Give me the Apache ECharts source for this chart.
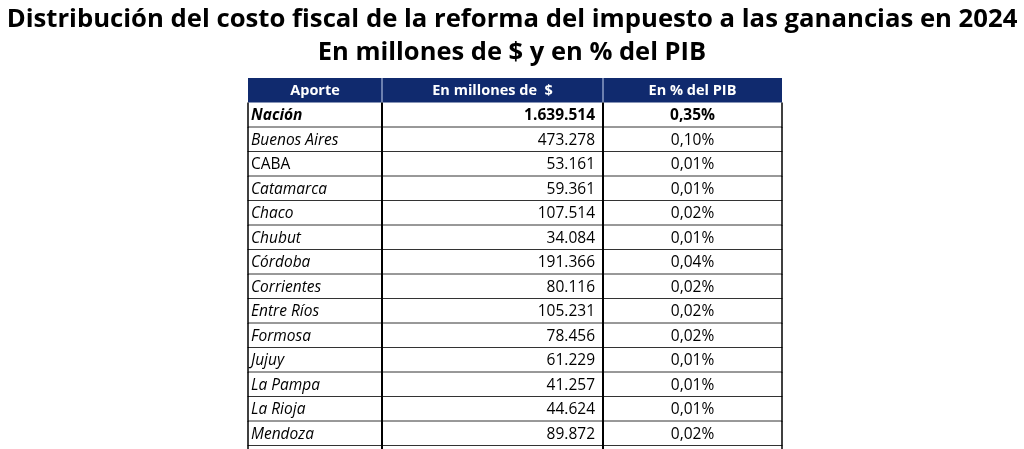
<!DOCTYPE html>
<html>
<head>
<meta charset="utf-8">
<script src="https://cdn.jsdelivr.net/npm/echarts@6/dist/echarts.min.js"></script>
<style>
  html, body { margin: 0; padding: 0; background: #fff; }
  #main { width: 1024px; height: 449px; }
</style>
</head>
<body>
<div id="main"></div>
<script>
// Datos de la tabla
var headers = ['Aporte', 'En millones de  $', 'En % del PIB'];
var aportes = ['Nación', 'Buenos Aires', 'CABA', 'Catamarca', 'Chaco', 'Chubut', 'Córdoba',
    'Corrientes', 'Entre Ríos', 'Formosa', 'Jujuy', 'La Pampa', 'La Rioja', 'Mendoza'];
var millones = [1639514, 473278, 53161, 59361, 107514, 34084, 191366,
    80116, 105231, 78456, 61229, 41257, 44624, 89872];
var pctPib = [0.35, 0.10, 0.01, 0.01, 0.02, 0.01, 0.04,
    0.02, 0.02, 0.02, 0.01, 0.01, 0.01, 0.02];
var filasTotal = ['Nación'];   // negrita
var filasRectas = ['CABA'];    // sin cursiva

var FONT = '"Open Sans", "Noto Sans", sans-serif';
var colWidths = [134, 221, 179];
var NAVY = '#102a6e';

function fmtMiles(v) {
    return String(v).replace(/\B(?=(\d{3})+(?!\d))/g, '.');
}
function fmtPct(v) {
    return v.toFixed(2).replace('.', ',') + '%';
}

// categorías: encabezado + filas + una fila cortada al pie
var categorias = ['__head'].concat(aportes).concat(['__next']);
var datos = categorias.map(function (c, i) { return [0, i]; });

function renderItem(params, api) {
    var idx = api.value(1);
    var cs = params.coordSys;
    var yc = api.coord([0, idx])[1];
    var h = api.size([0, 1])[1];
    var top = yc - h / 2, bottom = yc + h / 2;
    var total = colWidths[0] + colWidths[1] + colWidths[2];
    var xs = [cs.x];
    colWidths.forEach(function (w) { xs.push(xs[xs.length - 1] + w / total * cs.width); });
    var children = [];

    if (idx === 0) {
        children.push({ type: 'rect', shape: { x: xs[0], y: top, width: xs[3] - xs[0], height: h },
            style: { fill: NAVY } });
        [1, 2].forEach(function (k) {
            children.push({ type: 'line', shape: { x1: xs[k], y1: top, x2: xs[k], y2: bottom },
                style: { stroke: '#c9d6f0', lineWidth: 1 } });
        });
        headers.forEach(function (t, k) {
            children.push({ type: 'text', style: { text: t, x: (xs[k] + xs[k + 1]) / 2, y: yc + 1,
                align: 'center', verticalAlign: 'middle', fill: '#fff', font: 'bold 14.5px ' + FONT } });
        });
        return { type: 'group', children: children };
    }

    // bordes
    children.push({ type: 'line', shape: { x1: xs[0], y1: bottom, x2: xs[3], y2: bottom },
        style: { stroke: '#333', lineWidth: 1 } });
    [0, 1, 2, 3].forEach(function (k) {
        children.push({ type: 'line', shape: { x1: xs[k], y1: top, x2: xs[k], y2: bottom + 0.5 },
            style: { stroke: '#000', lineWidth: k === 0 || k === 3 ? 1.5 : 2 } });
    });

    var r = idx - 1;
    if (r < aportes.length) {
        var nombre = aportes[r];
        var bold = filasTotal.indexOf(nombre) >= 0;
        var ital = filasRectas.indexOf(nombre) < 0;
        var fName = (ital ? 'italic ' : '') + (bold ? 'bold ' : '') + '15.5px ' + FONT;
        var fNum = (bold ? 'bold ' : '') + '15.5px ' + FONT;
        children.push({ type: 'text', style: { text: nombre, x: xs[0] + 3, y: yc + 1,
            align: 'left', verticalAlign: 'middle', fill: '#000', font: fName } });
        children.push({ type: 'text', style: { text: fmtMiles(millones[r]), x: xs[2] - 8, y: yc + 1,
            align: 'right', verticalAlign: 'middle', fill: '#000', font: fNum } });
        children.push({ type: 'text', style: { text: fmtPct(pctPib[r]), x: (xs[2] + xs[3]) / 2, y: yc + 1,
            align: 'center', verticalAlign: 'middle', fill: '#000', font: fNum } });
    }
    return { type: 'group', children: children };
}

var chart = echarts.init(document.getElementById('main'), null, { renderer: 'canvas' });
chart.setOption({
    animation: false,
    backgroundColor: '#fff',
    title: [
        { text: 'Distribución del costo fiscal de la reforma del impuesto a las ganancias en 2024',
          left: 'center', top: 2,
          textStyle: { fontFamily: FONT, fontWeight: 'bold', fontSize: 25.7, color: '#000' } },
        { text: 'En millones de $ y en % del PIB',
          left: 'center', top: 35,
          textStyle: { fontFamily: FONT, fontWeight: 'bold', fontSize: 25.5, color: '#000' } }
    ],
    grid: { left: 248, width: 534, top: 78, height: 392, outerBoundsMode: 'none' },
    xAxis: { type: 'value', min: 0, max: 1, show: false },
    yAxis: { type: 'category', data: categorias, inverse: true, show: false },
    series: [{
        type: 'custom',
        renderItem: renderItem,
        data: datos,
        clip: false
    }]
});
</script>
</body>
</html>
